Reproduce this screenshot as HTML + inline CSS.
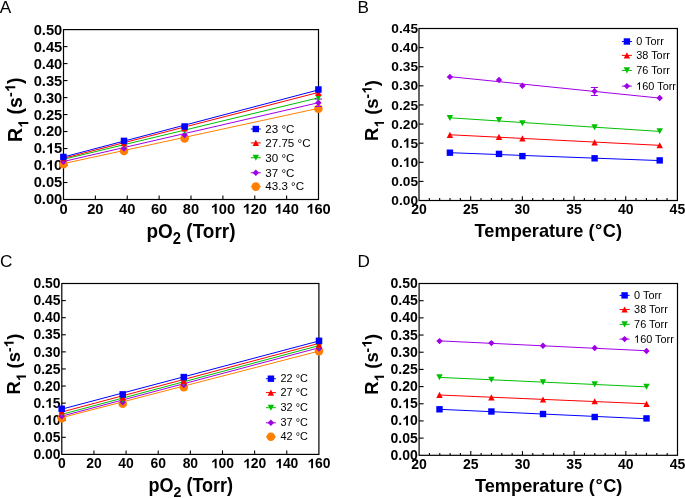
<!DOCTYPE html>
<html><head><meta charset="utf-8"><style>
html,body{margin:0;padding:0;background:#fff;width:685px;height:498px;overflow:hidden}
svg{display:block;will-change:transform}
</style></head><body>
<svg width="685" height="498" viewBox="0 0 685 498" font-family='"Liberation Sans", sans-serif' fill="#000">
<rect width="685" height="498" fill="#fff"/>
<g transform="translate(-0.150,12.900)"><text x="0" y="0" font-size="17.2" text-anchor="start" font-weight="normal">A</text></g>
<g transform="translate(357.500,13.000)"><text x="0" y="0" font-size="17.1" text-anchor="start" font-weight="normal">B</text></g>
<g transform="translate(0.000,267.100)"><text x="0" y="0" font-size="17.2" text-anchor="start" font-weight="normal">C</text></g>
<g transform="translate(357.600,266.700)"><text x="0" y="0" font-size="17.1" text-anchor="start" font-weight="normal">D</text></g>
<rect x="63.50" y="29.60" width="255.00" height="169.90" fill="none" stroke="#000" stroke-width="1.2"/>
<g transform="translate(62.300,204.450)"><text x="0" y="0" font-size="14.7" text-anchor="end" font-weight="bold">0.00</text></g>
<line x1="63.50" y1="182.51" x2="67.50" y2="182.51" stroke="#000" stroke-width="1.1"/>
<g transform="translate(62.300,187.460)"><text x="0" y="0" font-size="14.7" text-anchor="end" font-weight="bold">0.05</text></g>
<line x1="63.50" y1="165.52" x2="67.50" y2="165.52" stroke="#000" stroke-width="1.1"/>
<g transform="translate(62.300,170.470)"><text x="0" y="0" font-size="14.7" text-anchor="end" font-weight="bold">0. 0</text><path d="M843,0L566,0L566,1010C470,920 340,850 190,805L190,1050C290,1085 400,1150 480,1230C540,1290 580,1350 600,1409L843,1409Z" transform="translate(-16.351,0.000) scale(0.00718,-0.00718)"/></g>
<line x1="63.50" y1="148.53" x2="67.50" y2="148.53" stroke="#000" stroke-width="1.1"/>
<g transform="translate(62.300,153.480)"><text x="0" y="0" font-size="14.7" text-anchor="end" font-weight="bold">0. 5</text><path d="M843,0L566,0L566,1010C470,920 340,850 190,805L190,1050C290,1085 400,1150 480,1230C540,1290 580,1350 600,1409L843,1409Z" transform="translate(-16.351,0.000) scale(0.00718,-0.00718)"/></g>
<line x1="63.50" y1="131.54" x2="67.50" y2="131.54" stroke="#000" stroke-width="1.1"/>
<g transform="translate(62.300,136.490)"><text x="0" y="0" font-size="14.7" text-anchor="end" font-weight="bold">0.20</text></g>
<line x1="63.50" y1="114.55" x2="67.50" y2="114.55" stroke="#000" stroke-width="1.1"/>
<g transform="translate(62.300,119.500)"><text x="0" y="0" font-size="14.7" text-anchor="end" font-weight="bold">0.25</text></g>
<line x1="63.50" y1="97.56" x2="67.50" y2="97.56" stroke="#000" stroke-width="1.1"/>
<g transform="translate(62.300,102.510)"><text x="0" y="0" font-size="14.7" text-anchor="end" font-weight="bold">0.30</text></g>
<line x1="63.50" y1="80.57" x2="67.50" y2="80.57" stroke="#000" stroke-width="1.1"/>
<g transform="translate(62.300,85.520)"><text x="0" y="0" font-size="14.7" text-anchor="end" font-weight="bold">0.35</text></g>
<line x1="63.50" y1="63.58" x2="67.50" y2="63.58" stroke="#000" stroke-width="1.1"/>
<g transform="translate(62.300,68.530)"><text x="0" y="0" font-size="14.7" text-anchor="end" font-weight="bold">0.40</text></g>
<line x1="63.50" y1="46.59" x2="67.50" y2="46.59" stroke="#000" stroke-width="1.1"/>
<g transform="translate(62.300,51.540)"><text x="0" y="0" font-size="14.7" text-anchor="end" font-weight="bold">0.45</text></g>
<g transform="translate(62.300,34.550)"><text x="0" y="0" font-size="14.7" text-anchor="end" font-weight="bold">0.50</text></g>
<g transform="translate(63.500,213.750)"><text x="0" y="0" font-size="14.7" text-anchor="middle" font-weight="bold">0</text></g>
<line x1="95.38" y1="199.50" x2="95.38" y2="195.50" stroke="#000" stroke-width="1.1"/>
<g transform="translate(95.375,213.750)"><text x="0" y="0" font-size="14.7" text-anchor="middle" font-weight="bold">20</text></g>
<line x1="127.25" y1="199.50" x2="127.25" y2="195.50" stroke="#000" stroke-width="1.1"/>
<g transform="translate(127.250,213.750)"><text x="0" y="0" font-size="14.7" text-anchor="middle" font-weight="bold">40</text></g>
<line x1="159.12" y1="199.50" x2="159.12" y2="195.50" stroke="#000" stroke-width="1.1"/>
<g transform="translate(159.125,213.750)"><text x="0" y="0" font-size="14.7" text-anchor="middle" font-weight="bold">60</text></g>
<line x1="191.00" y1="199.50" x2="191.00" y2="195.50" stroke="#000" stroke-width="1.1"/>
<g transform="translate(191.000,213.750)"><text x="0" y="0" font-size="14.7" text-anchor="middle" font-weight="bold">80</text></g>
<line x1="222.88" y1="199.50" x2="222.88" y2="195.50" stroke="#000" stroke-width="1.1"/>
<g transform="translate(222.875,213.750)"><text x="0" y="0" font-size="14.7" text-anchor="middle" font-weight="bold"> 00</text><path d="M843,0L566,0L566,1010C470,920 340,850 190,805L190,1050C290,1085 400,1150 480,1230C540,1290 580,1350 600,1409L843,1409Z" transform="translate(-12.263,0.000) scale(0.00718,-0.00718)"/></g>
<line x1="254.75" y1="199.50" x2="254.75" y2="195.50" stroke="#000" stroke-width="1.1"/>
<g transform="translate(254.750,213.750)"><text x="0" y="0" font-size="14.7" text-anchor="middle" font-weight="bold"> 20</text><path d="M843,0L566,0L566,1010C470,920 340,850 190,805L190,1050C290,1085 400,1150 480,1230C540,1290 580,1350 600,1409L843,1409Z" transform="translate(-12.263,0.000) scale(0.00718,-0.00718)"/></g>
<line x1="286.62" y1="199.50" x2="286.62" y2="195.50" stroke="#000" stroke-width="1.1"/>
<g transform="translate(286.625,213.750)"><text x="0" y="0" font-size="14.7" text-anchor="middle" font-weight="bold"> 40</text><path d="M843,0L566,0L566,1010C470,920 340,850 190,805L190,1050C290,1085 400,1150 480,1230C540,1290 580,1350 600,1409L843,1409Z" transform="translate(-12.263,0.000) scale(0.00718,-0.00718)"/></g>
<g transform="translate(318.500,213.750)"><text x="0" y="0" font-size="14.7" text-anchor="middle" font-weight="bold"> 60</text><path d="M843,0L566,0L566,1010C470,920 340,850 190,805L190,1050C290,1085 400,1150 480,1230C540,1290 580,1350 600,1409L843,1409Z" transform="translate(-12.263,0.000) scale(0.00718,-0.00718)"/></g>
<rect x="419.00" y="28.50" width="258.40" height="172.00" fill="none" stroke="#000" stroke-width="1.2"/>
<g transform="translate(418.000,205.100)"><text x="0" y="0" font-size="13.7" text-anchor="end" font-weight="bold">0.00</text></g>
<line x1="419.00" y1="181.39" x2="423.50" y2="181.39" stroke="#000" stroke-width="1.1"/>
<g transform="translate(418.000,185.989)"><text x="0" y="0" font-size="13.7" text-anchor="end" font-weight="bold">0.05</text></g>
<line x1="419.00" y1="162.28" x2="423.50" y2="162.28" stroke="#000" stroke-width="1.1"/>
<g transform="translate(418.000,166.878)"><text x="0" y="0" font-size="13.7" text-anchor="end" font-weight="bold">0. 0</text><path d="M843,0L566,0L566,1010C470,920 340,850 190,805L190,1050C290,1085 400,1150 480,1230C540,1290 580,1350 600,1409L843,1409Z" transform="translate(-15.239,0.000) scale(0.00669,-0.00669)"/></g>
<line x1="419.00" y1="143.17" x2="423.50" y2="143.17" stroke="#000" stroke-width="1.1"/>
<g transform="translate(418.000,147.767)"><text x="0" y="0" font-size="13.7" text-anchor="end" font-weight="bold">0. 5</text><path d="M843,0L566,0L566,1010C470,920 340,850 190,805L190,1050C290,1085 400,1150 480,1230C540,1290 580,1350 600,1409L843,1409Z" transform="translate(-15.239,0.000) scale(0.00669,-0.00669)"/></g>
<line x1="419.00" y1="124.06" x2="423.50" y2="124.06" stroke="#000" stroke-width="1.1"/>
<g transform="translate(418.000,128.656)"><text x="0" y="0" font-size="13.7" text-anchor="end" font-weight="bold">0.20</text></g>
<line x1="419.00" y1="104.94" x2="423.50" y2="104.94" stroke="#000" stroke-width="1.1"/>
<g transform="translate(418.000,109.544)"><text x="0" y="0" font-size="13.7" text-anchor="end" font-weight="bold">0.25</text></g>
<line x1="419.00" y1="85.83" x2="423.50" y2="85.83" stroke="#000" stroke-width="1.1"/>
<g transform="translate(418.000,90.433)"><text x="0" y="0" font-size="13.7" text-anchor="end" font-weight="bold">0.30</text></g>
<line x1="419.00" y1="66.72" x2="423.50" y2="66.72" stroke="#000" stroke-width="1.1"/>
<g transform="translate(418.000,71.322)"><text x="0" y="0" font-size="13.7" text-anchor="end" font-weight="bold">0.35</text></g>
<line x1="419.00" y1="47.61" x2="423.50" y2="47.61" stroke="#000" stroke-width="1.1"/>
<g transform="translate(418.000,52.211)"><text x="0" y="0" font-size="13.7" text-anchor="end" font-weight="bold">0.40</text></g>
<g transform="translate(418.000,33.100)"><text x="0" y="0" font-size="13.7" text-anchor="end" font-weight="bold">0.45</text></g>
<g transform="translate(419.000,213.800)"><text x="0" y="0" font-size="14.0" text-anchor="middle" font-weight="bold">20</text></g>
<line x1="470.68" y1="200.50" x2="470.68" y2="196.30" stroke="#000" stroke-width="1.1"/>
<g transform="translate(470.680,213.800)"><text x="0" y="0" font-size="14.0" text-anchor="middle" font-weight="bold">25</text></g>
<line x1="522.36" y1="200.50" x2="522.36" y2="196.30" stroke="#000" stroke-width="1.1"/>
<g transform="translate(522.360,213.800)"><text x="0" y="0" font-size="14.0" text-anchor="middle" font-weight="bold">30</text></g>
<line x1="574.04" y1="200.50" x2="574.04" y2="196.30" stroke="#000" stroke-width="1.1"/>
<g transform="translate(574.040,213.800)"><text x="0" y="0" font-size="14.0" text-anchor="middle" font-weight="bold">35</text></g>
<line x1="625.72" y1="200.50" x2="625.72" y2="196.30" stroke="#000" stroke-width="1.1"/>
<g transform="translate(625.720,213.800)"><text x="0" y="0" font-size="14.0" text-anchor="middle" font-weight="bold">40</text></g>
<g transform="translate(677.400,213.800)"><text x="0" y="0" font-size="14.0" text-anchor="middle" font-weight="bold">45</text></g>
<line x1="429.34" y1="200.50" x2="429.34" y2="198.10" stroke="#000" stroke-width="1.1"/>
<line x1="439.67" y1="200.50" x2="439.67" y2="198.10" stroke="#000" stroke-width="1.1"/>
<line x1="450.01" y1="200.50" x2="450.01" y2="198.10" stroke="#000" stroke-width="1.1"/>
<line x1="460.34" y1="200.50" x2="460.34" y2="198.10" stroke="#000" stroke-width="1.1"/>
<line x1="481.02" y1="200.50" x2="481.02" y2="198.10" stroke="#000" stroke-width="1.1"/>
<line x1="491.35" y1="200.50" x2="491.35" y2="198.10" stroke="#000" stroke-width="1.1"/>
<line x1="501.69" y1="200.50" x2="501.69" y2="198.10" stroke="#000" stroke-width="1.1"/>
<line x1="512.02" y1="200.50" x2="512.02" y2="198.10" stroke="#000" stroke-width="1.1"/>
<line x1="532.70" y1="200.50" x2="532.70" y2="198.10" stroke="#000" stroke-width="1.1"/>
<line x1="543.03" y1="200.50" x2="543.03" y2="198.10" stroke="#000" stroke-width="1.1"/>
<line x1="553.37" y1="200.50" x2="553.37" y2="198.10" stroke="#000" stroke-width="1.1"/>
<line x1="563.70" y1="200.50" x2="563.70" y2="198.10" stroke="#000" stroke-width="1.1"/>
<line x1="584.38" y1="200.50" x2="584.38" y2="198.10" stroke="#000" stroke-width="1.1"/>
<line x1="594.71" y1="200.50" x2="594.71" y2="198.10" stroke="#000" stroke-width="1.1"/>
<line x1="605.05" y1="200.50" x2="605.05" y2="198.10" stroke="#000" stroke-width="1.1"/>
<line x1="615.38" y1="200.50" x2="615.38" y2="198.10" stroke="#000" stroke-width="1.1"/>
<line x1="636.06" y1="200.50" x2="636.06" y2="198.10" stroke="#000" stroke-width="1.1"/>
<line x1="646.39" y1="200.50" x2="646.39" y2="198.10" stroke="#000" stroke-width="1.1"/>
<line x1="656.73" y1="200.50" x2="656.73" y2="198.10" stroke="#000" stroke-width="1.1"/>
<line x1="667.06" y1="200.50" x2="667.06" y2="198.10" stroke="#000" stroke-width="1.1"/>
<rect x="61.80" y="283.50" width="257.10" height="170.90" fill="none" stroke="#000" stroke-width="1.2"/>
<g transform="translate(60.500,459.100)"><text x="0" y="0" font-size="13.9" text-anchor="end" font-weight="bold">0.00</text></g>
<line x1="61.80" y1="437.31" x2="65.80" y2="437.31" stroke="#000" stroke-width="1.1"/>
<g transform="translate(60.500,442.010)"><text x="0" y="0" font-size="13.9" text-anchor="end" font-weight="bold">0.05</text></g>
<line x1="61.80" y1="420.22" x2="65.80" y2="420.22" stroke="#000" stroke-width="1.1"/>
<g transform="translate(60.500,424.920)"><text x="0" y="0" font-size="13.9" text-anchor="end" font-weight="bold">0. 0</text><path d="M843,0L566,0L566,1010C470,920 340,850 190,805L190,1050C290,1085 400,1150 480,1230C540,1290 580,1350 600,1409L843,1409Z" transform="translate(-15.461,0.000) scale(0.00679,-0.00679)"/></g>
<line x1="61.80" y1="403.13" x2="65.80" y2="403.13" stroke="#000" stroke-width="1.1"/>
<g transform="translate(60.500,407.830)"><text x="0" y="0" font-size="13.9" text-anchor="end" font-weight="bold">0. 5</text><path d="M843,0L566,0L566,1010C470,920 340,850 190,805L190,1050C290,1085 400,1150 480,1230C540,1290 580,1350 600,1409L843,1409Z" transform="translate(-15.461,0.000) scale(0.00679,-0.00679)"/></g>
<line x1="61.80" y1="386.04" x2="65.80" y2="386.04" stroke="#000" stroke-width="1.1"/>
<g transform="translate(60.500,390.740)"><text x="0" y="0" font-size="13.9" text-anchor="end" font-weight="bold">0.20</text></g>
<line x1="61.80" y1="368.95" x2="65.80" y2="368.95" stroke="#000" stroke-width="1.1"/>
<g transform="translate(60.500,373.650)"><text x="0" y="0" font-size="13.9" text-anchor="end" font-weight="bold">0.25</text></g>
<line x1="61.80" y1="351.86" x2="65.80" y2="351.86" stroke="#000" stroke-width="1.1"/>
<g transform="translate(60.500,356.560)"><text x="0" y="0" font-size="13.9" text-anchor="end" font-weight="bold">0.30</text></g>
<line x1="61.80" y1="334.77" x2="65.80" y2="334.77" stroke="#000" stroke-width="1.1"/>
<g transform="translate(60.500,339.470)"><text x="0" y="0" font-size="13.9" text-anchor="end" font-weight="bold">0.35</text></g>
<line x1="61.80" y1="317.68" x2="65.80" y2="317.68" stroke="#000" stroke-width="1.1"/>
<g transform="translate(60.500,322.380)"><text x="0" y="0" font-size="13.9" text-anchor="end" font-weight="bold">0.40</text></g>
<line x1="61.80" y1="300.59" x2="65.80" y2="300.59" stroke="#000" stroke-width="1.1"/>
<g transform="translate(60.500,305.290)"><text x="0" y="0" font-size="13.9" text-anchor="end" font-weight="bold">0.45</text></g>
<g transform="translate(60.500,288.200)"><text x="0" y="0" font-size="13.9" text-anchor="end" font-weight="bold">0.50</text></g>
<g transform="translate(61.800,468.200)"><text x="0" y="0" font-size="13.9" text-anchor="middle" font-weight="bold">0</text></g>
<line x1="93.94" y1="454.40" x2="93.94" y2="450.40" stroke="#000" stroke-width="1.1"/>
<g transform="translate(93.938,468.200)"><text x="0" y="0" font-size="13.9" text-anchor="middle" font-weight="bold">20</text></g>
<line x1="126.07" y1="454.40" x2="126.07" y2="450.40" stroke="#000" stroke-width="1.1"/>
<g transform="translate(126.075,468.200)"><text x="0" y="0" font-size="13.9" text-anchor="middle" font-weight="bold">40</text></g>
<line x1="158.21" y1="454.40" x2="158.21" y2="450.40" stroke="#000" stroke-width="1.1"/>
<g transform="translate(158.212,468.200)"><text x="0" y="0" font-size="13.9" text-anchor="middle" font-weight="bold">60</text></g>
<line x1="190.35" y1="454.40" x2="190.35" y2="450.40" stroke="#000" stroke-width="1.1"/>
<g transform="translate(190.350,468.200)"><text x="0" y="0" font-size="13.9" text-anchor="middle" font-weight="bold">80</text></g>
<line x1="222.49" y1="454.40" x2="222.49" y2="450.40" stroke="#000" stroke-width="1.1"/>
<g transform="translate(222.487,468.200)"><text x="0" y="0" font-size="13.9" text-anchor="middle" font-weight="bold"> 00</text><path d="M843,0L566,0L566,1010C470,920 340,850 190,805L190,1050C290,1085 400,1150 480,1230C540,1290 580,1350 600,1409L843,1409Z" transform="translate(-11.596,0.000) scale(0.00679,-0.00679)"/></g>
<line x1="254.62" y1="454.40" x2="254.62" y2="450.40" stroke="#000" stroke-width="1.1"/>
<g transform="translate(254.625,468.200)"><text x="0" y="0" font-size="13.9" text-anchor="middle" font-weight="bold"> 20</text><path d="M843,0L566,0L566,1010C470,920 340,850 190,805L190,1050C290,1085 400,1150 480,1230C540,1290 580,1350 600,1409L843,1409Z" transform="translate(-11.596,0.000) scale(0.00679,-0.00679)"/></g>
<line x1="286.76" y1="454.40" x2="286.76" y2="450.40" stroke="#000" stroke-width="1.1"/>
<g transform="translate(286.762,468.200)"><text x="0" y="0" font-size="13.9" text-anchor="middle" font-weight="bold"> 40</text><path d="M843,0L566,0L566,1010C470,920 340,850 190,805L190,1050C290,1085 400,1150 480,1230C540,1290 580,1350 600,1409L843,1409Z" transform="translate(-11.596,0.000) scale(0.00679,-0.00679)"/></g>
<g transform="translate(318.900,468.200)"><text x="0" y="0" font-size="13.9" text-anchor="middle" font-weight="bold"> 60</text><path d="M843,0L566,0L566,1010C470,920 340,850 190,805L190,1050C290,1085 400,1150 480,1230C540,1290 580,1350 600,1409L843,1409Z" transform="translate(-11.596,0.000) scale(0.00679,-0.00679)"/></g>
<rect x="419.10" y="283.50" width="258.40" height="171.80" fill="none" stroke="#000" stroke-width="1.2"/>
<g transform="translate(417.800,459.800)"><text x="0" y="0" font-size="14.0" text-anchor="end" font-weight="bold">0.00</text></g>
<line x1="419.10" y1="438.12" x2="423.60" y2="438.12" stroke="#000" stroke-width="1.1"/>
<g transform="translate(417.800,442.620)"><text x="0" y="0" font-size="14.0" text-anchor="end" font-weight="bold">0.05</text></g>
<line x1="419.10" y1="420.94" x2="423.60" y2="420.94" stroke="#000" stroke-width="1.1"/>
<g transform="translate(417.800,425.440)"><text x="0" y="0" font-size="14.0" text-anchor="end" font-weight="bold">0. 0</text><path d="M843,0L566,0L566,1010C470,920 340,850 190,805L190,1050C290,1085 400,1150 480,1230C540,1290 580,1350 600,1409L843,1409Z" transform="translate(-15.572,0.000) scale(0.00684,-0.00684)"/></g>
<line x1="419.10" y1="403.76" x2="423.60" y2="403.76" stroke="#000" stroke-width="1.1"/>
<g transform="translate(417.800,408.260)"><text x="0" y="0" font-size="14.0" text-anchor="end" font-weight="bold">0. 5</text><path d="M843,0L566,0L566,1010C470,920 340,850 190,805L190,1050C290,1085 400,1150 480,1230C540,1290 580,1350 600,1409L843,1409Z" transform="translate(-15.572,0.000) scale(0.00684,-0.00684)"/></g>
<line x1="419.10" y1="386.58" x2="423.60" y2="386.58" stroke="#000" stroke-width="1.1"/>
<g transform="translate(417.800,391.080)"><text x="0" y="0" font-size="14.0" text-anchor="end" font-weight="bold">0.20</text></g>
<line x1="419.10" y1="369.40" x2="423.60" y2="369.40" stroke="#000" stroke-width="1.1"/>
<g transform="translate(417.800,373.900)"><text x="0" y="0" font-size="14.0" text-anchor="end" font-weight="bold">0.25</text></g>
<line x1="419.10" y1="352.22" x2="423.60" y2="352.22" stroke="#000" stroke-width="1.1"/>
<g transform="translate(417.800,356.720)"><text x="0" y="0" font-size="14.0" text-anchor="end" font-weight="bold">0.30</text></g>
<line x1="419.10" y1="335.04" x2="423.60" y2="335.04" stroke="#000" stroke-width="1.1"/>
<g transform="translate(417.800,339.540)"><text x="0" y="0" font-size="14.0" text-anchor="end" font-weight="bold">0.35</text></g>
<line x1="419.10" y1="317.86" x2="423.60" y2="317.86" stroke="#000" stroke-width="1.1"/>
<g transform="translate(417.800,322.360)"><text x="0" y="0" font-size="14.0" text-anchor="end" font-weight="bold">0.40</text></g>
<line x1="419.10" y1="300.68" x2="423.60" y2="300.68" stroke="#000" stroke-width="1.1"/>
<g transform="translate(417.800,305.180)"><text x="0" y="0" font-size="14.0" text-anchor="end" font-weight="bold">0.45</text></g>
<g transform="translate(417.800,288.000)"><text x="0" y="0" font-size="14.0" text-anchor="end" font-weight="bold">0.50</text></g>
<g transform="translate(419.100,468.800)"><text x="0" y="0" font-size="14.0" text-anchor="middle" font-weight="bold">20</text></g>
<line x1="470.78" y1="455.30" x2="470.78" y2="451.10" stroke="#000" stroke-width="1.1"/>
<g transform="translate(470.780,468.800)"><text x="0" y="0" font-size="14.0" text-anchor="middle" font-weight="bold">25</text></g>
<line x1="522.46" y1="455.30" x2="522.46" y2="451.10" stroke="#000" stroke-width="1.1"/>
<g transform="translate(522.460,468.800)"><text x="0" y="0" font-size="14.0" text-anchor="middle" font-weight="bold">30</text></g>
<line x1="574.14" y1="455.30" x2="574.14" y2="451.10" stroke="#000" stroke-width="1.1"/>
<g transform="translate(574.140,468.800)"><text x="0" y="0" font-size="14.0" text-anchor="middle" font-weight="bold">35</text></g>
<line x1="625.82" y1="455.30" x2="625.82" y2="451.10" stroke="#000" stroke-width="1.1"/>
<g transform="translate(625.820,468.800)"><text x="0" y="0" font-size="14.0" text-anchor="middle" font-weight="bold">40</text></g>
<g transform="translate(677.500,468.800)"><text x="0" y="0" font-size="14.0" text-anchor="middle" font-weight="bold">45</text></g>
<line x1="429.44" y1="455.30" x2="429.44" y2="452.90" stroke="#000" stroke-width="1.1"/>
<line x1="439.77" y1="455.30" x2="439.77" y2="452.90" stroke="#000" stroke-width="1.1"/>
<line x1="450.11" y1="455.30" x2="450.11" y2="452.90" stroke="#000" stroke-width="1.1"/>
<line x1="460.44" y1="455.30" x2="460.44" y2="452.90" stroke="#000" stroke-width="1.1"/>
<line x1="481.12" y1="455.30" x2="481.12" y2="452.90" stroke="#000" stroke-width="1.1"/>
<line x1="491.45" y1="455.30" x2="491.45" y2="452.90" stroke="#000" stroke-width="1.1"/>
<line x1="501.79" y1="455.30" x2="501.79" y2="452.90" stroke="#000" stroke-width="1.1"/>
<line x1="512.12" y1="455.30" x2="512.12" y2="452.90" stroke="#000" stroke-width="1.1"/>
<line x1="532.80" y1="455.30" x2="532.80" y2="452.90" stroke="#000" stroke-width="1.1"/>
<line x1="543.13" y1="455.30" x2="543.13" y2="452.90" stroke="#000" stroke-width="1.1"/>
<line x1="553.47" y1="455.30" x2="553.47" y2="452.90" stroke="#000" stroke-width="1.1"/>
<line x1="563.80" y1="455.30" x2="563.80" y2="452.90" stroke="#000" stroke-width="1.1"/>
<line x1="584.48" y1="455.30" x2="584.48" y2="452.90" stroke="#000" stroke-width="1.1"/>
<line x1="594.81" y1="455.30" x2="594.81" y2="452.90" stroke="#000" stroke-width="1.1"/>
<line x1="605.15" y1="455.30" x2="605.15" y2="452.90" stroke="#000" stroke-width="1.1"/>
<line x1="615.48" y1="455.30" x2="615.48" y2="452.90" stroke="#000" stroke-width="1.1"/>
<line x1="636.16" y1="455.30" x2="636.16" y2="452.90" stroke="#000" stroke-width="1.1"/>
<line x1="646.49" y1="455.30" x2="646.49" y2="452.90" stroke="#000" stroke-width="1.1"/>
<line x1="656.83" y1="455.30" x2="656.83" y2="452.90" stroke="#000" stroke-width="1.1"/>
<line x1="667.16" y1="455.30" x2="667.16" y2="452.90" stroke="#000" stroke-width="1.1"/>
<g transform="translate(22.100,109.800) rotate(-90)"><text x="0" y="0" font-size="19.5" text-anchor="middle" font-weight="bold">R<tspan font-size="14.625" dy="6.240"> </tspan><tspan dy="-6.240"> (s</tspan><tspan font-size="14.625" dy="-6.825">- </tspan><tspan dy="6.825">)</tspan></text><path d="M843,0L566,0L566,1010C470,920 340,850 190,805L190,1050C290,1085 400,1150 480,1230C540,1290 580,1350 600,1409L843,1409Z" transform="translate(-18.153,6.240) scale(0.00714,-0.00714)"/><path d="M843,0L566,0L566,1010C470,920 340,850 190,805L190,1050C290,1085 400,1150 480,1230C540,1290 580,1350 600,1409L843,1409Z" transform="translate(17.608,-6.825) scale(0.00714,-0.00714)"/></g>
<g transform="translate(378.100,110.500) rotate(-90)"><text x="0" y="0" font-size="18.4" text-anchor="middle" font-weight="bold">R<tspan font-size="13.800" dy="5.888"> </tspan><tspan dy="-5.888"> (s</tspan><tspan font-size="13.800" dy="-6.440">- </tspan><tspan dy="6.440">)</tspan></text><path d="M843,0L566,0L566,1010C470,920 340,850 190,805L190,1050C290,1085 400,1150 480,1230C540,1290 580,1350 600,1409L843,1409Z" transform="translate(-17.129,5.888) scale(0.00674,-0.00674)"/><path d="M843,0L566,0L566,1010C470,920 340,850 190,805L190,1050C290,1085 400,1150 480,1230C540,1290 580,1350 600,1409L843,1409Z" transform="translate(16.614,-6.440) scale(0.00674,-0.00674)"/></g>
<g transform="translate(20.100,364.100) rotate(-90)"><text x="0" y="0" font-size="18.4" text-anchor="middle" font-weight="bold">R<tspan font-size="13.800" dy="5.888"> </tspan><tspan dy="-5.888"> (s</tspan><tspan font-size="13.800" dy="-6.440">- </tspan><tspan dy="6.440">)</tspan></text><path d="M843,0L566,0L566,1010C470,920 340,850 190,805L190,1050C290,1085 400,1150 480,1230C540,1290 580,1350 600,1409L843,1409Z" transform="translate(-17.129,5.888) scale(0.00674,-0.00674)"/><path d="M843,0L566,0L566,1010C470,920 340,850 190,805L190,1050C290,1085 400,1150 480,1230C540,1290 580,1350 600,1409L843,1409Z" transform="translate(16.614,-6.440) scale(0.00674,-0.00674)"/></g>
<g transform="translate(378.100,364.400) rotate(-90)"><text x="0" y="0" font-size="18.4" text-anchor="middle" font-weight="bold">R<tspan font-size="13.800" dy="5.888"> </tspan><tspan dy="-5.888"> (s</tspan><tspan font-size="13.800" dy="-6.440">- </tspan><tspan dy="6.440">)</tspan></text><path d="M843,0L566,0L566,1010C470,920 340,850 190,805L190,1050C290,1085 400,1150 480,1230C540,1290 580,1350 600,1409L843,1409Z" transform="translate(-17.129,5.888) scale(0.00674,-0.00674)"/><path d="M843,0L566,0L566,1010C470,920 340,850 190,805L190,1050C290,1085 400,1150 480,1230C540,1290 580,1350 600,1409L843,1409Z" transform="translate(16.614,-6.440) scale(0.00674,-0.00674)"/></g>
<g transform="translate(191.000,238.100) scale(0.9250,1)"><text x="0" y="0" font-size="20.5" text-anchor="middle" font-weight="bold">pO<tspan font-size="15.990" dy="6.150">2</tspan><tspan dy="-6.150"> (Torr)</tspan></text></g>
<text transform="translate(548.30,237.20) scale(1.000,1)" font-size="18.2" font-weight="bold" text-anchor="middle">Temperature (<tspan dx="0.5" dy="-0.9">°</tspan><tspan dx="0.5" dy="0.9">C)</tspan></text>
<g transform="translate(190.800,491.600) scale(0.9350,1)"><text x="0" y="0" font-size="19.3" text-anchor="middle" font-weight="bold">pO<tspan font-size="15.054" dy="5.790">2</tspan><tspan dy="-5.790"> (Torr)</tspan></text></g>
<text transform="translate(548.70,492.00) scale(1.000,1)" font-size="18.2" font-weight="bold" text-anchor="middle">Temperature (<tspan dx="0.5" dy="-0.9">°</tspan><tspan dx="0.5" dy="0.9">C)</tspan></text>
<line x1="63.50" y1="163.60" x2="318.50" y2="108.30" stroke="#FF8000" stroke-width="1.0"/>
<line x1="63.50" y1="161.50" x2="318.50" y2="102.70" stroke="#A000E6" stroke-width="1.0"/>
<line x1="63.50" y1="159.30" x2="318.50" y2="97.80" stroke="#00C000" stroke-width="1.0"/>
<line x1="63.50" y1="158.30" x2="318.50" y2="92.40" stroke="#FF0000" stroke-width="1.0"/>
<line x1="63.50" y1="157.00" x2="318.50" y2="89.90" stroke="#0000FF" stroke-width="1.0"/>
<circle cx="63.40" cy="164.20" r="4.30" fill="#FF8000"/>
<circle cx="124.00" cy="150.90" r="4.30" fill="#FF8000"/>
<circle cx="184.60" cy="138.40" r="4.30" fill="#FF8000"/>
<circle cx="318.40" cy="108.70" r="4.30" fill="#FF8000"/>
<line x1="318.40" y1="99.10" x2="318.40" y2="106.50" stroke="#A000E6" stroke-width="1.0"/>
<line x1="314.80" y1="99.10" x2="322.00" y2="99.10" stroke="#A000E6" stroke-width="1.0"/>
<line x1="314.80" y1="106.50" x2="322.00" y2="106.50" stroke="#A000E6" stroke-width="1.0"/>
<path d="M63.40,158.55 L66.65,161.80 L63.40,165.05 L60.15,161.80Z" fill="#A000E6"/>
<path d="M124.00,145.25 L127.25,148.50 L124.00,151.75 L120.75,148.50Z" fill="#A000E6"/>
<path d="M184.60,131.75 L187.85,135.00 L184.60,138.25 L181.35,135.00Z" fill="#A000E6"/>
<path d="M318.40,99.55 L321.65,102.80 L318.40,106.05 L315.15,102.80Z" fill="#A000E6"/>
<path d="M63.40,162.59 L66.65,156.41 L60.15,156.41Z" fill="#00C000"/>
<path d="M124.00,147.89 L127.25,141.71 L120.75,141.71Z" fill="#00C000"/>
<path d="M184.60,133.79 L187.85,127.61 L181.35,127.61Z" fill="#00C000"/>
<path d="M318.40,100.69 L321.65,94.51 L315.15,94.51Z" fill="#00C000"/>
<path d="M63.40,155.11 L66.65,161.29 L60.15,161.29Z" fill="#FF0000"/>
<path d="M124.00,140.01 L127.25,146.19 L120.75,146.19Z" fill="#FF0000"/>
<path d="M184.60,125.41 L187.85,131.59 L181.35,131.59Z" fill="#FF0000"/>
<path d="M318.40,89.71 L321.65,95.89 L315.15,95.89Z" fill="#FF0000"/>
<rect x="60.15" y="153.75" width="6.50" height="6.50" fill="#0000FF"/>
<rect x="120.75" y="137.65" width="6.50" height="6.50" fill="#0000FF"/>
<rect x="181.35" y="123.25" width="6.50" height="6.50" fill="#0000FF"/>
<rect x="315.15" y="86.25" width="6.50" height="6.50" fill="#0000FF"/>
<line x1="61.80" y1="417.60" x2="318.90" y2="351.10" stroke="#FF8000" stroke-width="1.0"/>
<line x1="61.80" y1="416.15" x2="318.90" y2="347.80" stroke="#A000E6" stroke-width="1.0"/>
<line x1="61.80" y1="414.35" x2="318.90" y2="345.65" stroke="#00C000" stroke-width="1.0"/>
<line x1="61.80" y1="412.00" x2="318.90" y2="343.40" stroke="#FF0000" stroke-width="1.0"/>
<line x1="61.80" y1="409.15" x2="318.90" y2="341.00" stroke="#0000FF" stroke-width="1.0"/>
<circle cx="61.70" cy="418.30" r="4.30" fill="#FF8000"/>
<circle cx="122.70" cy="403.80" r="4.30" fill="#FF8000"/>
<circle cx="183.80" cy="387.10" r="4.30" fill="#FF8000"/>
<circle cx="319.00" cy="351.10" r="4.30" fill="#FF8000"/>
<path d="M61.70,413.05 L64.95,416.30 L61.70,419.55 L58.45,416.30Z" fill="#A000E6"/>
<path d="M122.70,398.95 L125.95,402.20 L122.70,405.45 L119.45,402.20Z" fill="#A000E6"/>
<path d="M183.80,381.65 L187.05,384.90 L183.80,388.15 L180.55,384.90Z" fill="#A000E6"/>
<path d="M319.00,345.35 L322.25,348.60 L319.00,351.85 L315.75,348.60Z" fill="#A000E6"/>
<path d="M61.70,416.69 L64.95,410.51 L58.45,410.51Z" fill="#00C000"/>
<path d="M122.70,402.99 L125.95,396.81 L119.45,396.81Z" fill="#00C000"/>
<path d="M183.80,386.09 L187.05,379.91 L180.55,379.91Z" fill="#00C000"/>
<path d="M319.00,349.59 L322.25,343.41 L315.75,343.41Z" fill="#00C000"/>
<path d="M61.70,408.41 L64.95,414.59 L58.45,414.59Z" fill="#FF0000"/>
<path d="M122.70,394.21 L125.95,400.39 L119.45,400.39Z" fill="#FF0000"/>
<path d="M183.80,377.71 L187.05,383.89 L180.55,383.89Z" fill="#FF0000"/>
<path d="M319.00,341.51 L322.25,347.69 L315.75,347.69Z" fill="#FF0000"/>
<rect x="58.45" y="405.55" width="6.50" height="6.50" fill="#0000FF"/>
<rect x="119.45" y="391.15" width="6.50" height="6.50" fill="#0000FF"/>
<rect x="180.55" y="373.85" width="6.50" height="6.50" fill="#0000FF"/>
<rect x="315.75" y="337.55" width="6.50" height="6.50" fill="#0000FF"/>
<line x1="449.90" y1="76.68" x2="659.70" y2="98.09" stroke="#A000E6" stroke-width="1.0"/>
<line x1="449.90" y1="117.80" x2="659.70" y2="131.42" stroke="#00C000" stroke-width="1.0"/>
<line x1="449.90" y1="134.75" x2="659.70" y2="145.35" stroke="#FF0000" stroke-width="1.0"/>
<line x1="449.90" y1="152.70" x2="659.70" y2="160.59" stroke="#0000FF" stroke-width="1.0"/>
<line x1="594.40" y1="87.50" x2="594.40" y2="95.50" stroke="#A000E6" stroke-width="1.0"/>
<line x1="590.90" y1="87.50" x2="597.90" y2="87.50" stroke="#A000E6" stroke-width="1.0"/>
<line x1="590.90" y1="95.50" x2="597.90" y2="95.50" stroke="#A000E6" stroke-width="1.0"/>
<path d="M449.90,73.70 L453.10,76.90 L449.90,80.10 L446.70,76.90Z" fill="#A000E6"/>
<path d="M499.00,76.80 L502.20,80.00 L499.00,83.20 L495.80,80.00Z" fill="#A000E6"/>
<path d="M522.40,82.60 L525.60,85.80 L522.40,89.00 L519.20,85.80Z" fill="#A000E6"/>
<path d="M594.60,88.10 L597.80,91.30 L594.60,94.50 L591.40,91.30Z" fill="#A000E6"/>
<path d="M659.70,94.80 L662.90,98.00 L659.70,101.20 L656.50,98.00Z" fill="#A000E6"/>
<path d="M449.90,121.04 L453.10,114.96 L446.70,114.96Z" fill="#00C000"/>
<path d="M499.00,123.04 L502.20,116.96 L495.80,116.96Z" fill="#00C000"/>
<path d="M522.40,126.34 L525.60,120.26 L519.20,120.26Z" fill="#00C000"/>
<path d="M594.60,130.34 L597.80,124.26 L591.40,124.26Z" fill="#00C000"/>
<path d="M659.70,134.34 L662.90,128.26 L656.50,128.26Z" fill="#00C000"/>
<path d="M449.90,131.86 L453.10,137.94 L446.70,137.94Z" fill="#FF0000"/>
<path d="M499.00,133.86 L502.20,139.94 L495.80,139.94Z" fill="#FF0000"/>
<path d="M522.40,135.36 L525.60,141.44 L519.20,141.44Z" fill="#FF0000"/>
<path d="M594.60,139.36 L597.80,145.44 L591.40,145.44Z" fill="#FF0000"/>
<path d="M659.70,142.16 L662.90,148.24 L656.50,148.24Z" fill="#FF0000"/>
<rect x="446.70" y="149.50" width="6.40" height="6.40" fill="#0000FF"/>
<rect x="495.80" y="150.70" width="6.40" height="6.40" fill="#0000FF"/>
<rect x="519.20" y="152.90" width="6.40" height="6.40" fill="#0000FF"/>
<rect x="591.40" y="155.10" width="6.40" height="6.40" fill="#0000FF"/>
<rect x="656.50" y="157.20" width="6.40" height="6.40" fill="#0000FF"/>
<line x1="439.50" y1="340.86" x2="646.50" y2="350.74" stroke="#A000E6" stroke-width="1.0"/>
<line x1="439.50" y1="377.40" x2="646.50" y2="386.84" stroke="#00C000" stroke-width="1.0"/>
<line x1="439.50" y1="395.02" x2="646.50" y2="403.74" stroke="#FF0000" stroke-width="1.0"/>
<line x1="439.50" y1="409.30" x2="646.50" y2="418.78" stroke="#0000FF" stroke-width="1.0"/>
<path d="M439.50,337.90 L442.70,341.10 L439.50,344.30 L436.30,341.10Z" fill="#A000E6"/>
<path d="M491.40,339.90 L494.60,343.10 L491.40,346.30 L488.20,343.10Z" fill="#A000E6"/>
<path d="M543.00,342.60 L546.20,345.80 L543.00,349.00 L539.80,345.80Z" fill="#A000E6"/>
<path d="M594.70,344.80 L597.90,348.00 L594.70,351.20 L591.50,348.00Z" fill="#A000E6"/>
<path d="M646.50,347.80 L649.70,351.00 L646.50,354.20 L643.30,351.00Z" fill="#A000E6"/>
<path d="M439.50,380.34 L442.70,374.26 L436.30,374.26Z" fill="#00C000"/>
<path d="M491.40,382.84 L494.60,376.76 L488.20,376.76Z" fill="#00C000"/>
<path d="M543.00,385.34 L546.20,379.26 L539.80,379.26Z" fill="#00C000"/>
<path d="M594.70,387.44 L597.90,381.36 L591.50,381.36Z" fill="#00C000"/>
<path d="M646.50,389.84 L649.70,383.76 L643.30,383.76Z" fill="#00C000"/>
<path d="M439.50,391.86 L442.70,397.94 L436.30,397.94Z" fill="#FF0000"/>
<path d="M491.40,394.36 L494.60,400.44 L488.20,400.44Z" fill="#FF0000"/>
<path d="M543.00,396.46 L546.20,402.54 L539.80,402.54Z" fill="#FF0000"/>
<path d="M594.70,398.16 L597.90,404.24 L591.50,404.24Z" fill="#FF0000"/>
<path d="M646.50,400.86 L649.70,406.94 L643.30,406.94Z" fill="#FF0000"/>
<rect x="436.30" y="406.10" width="6.40" height="6.40" fill="#0000FF"/>
<rect x="488.20" y="408.30" width="6.40" height="6.40" fill="#0000FF"/>
<rect x="539.80" y="410.80" width="6.40" height="6.40" fill="#0000FF"/>
<rect x="591.50" y="413.80" width="6.40" height="6.40" fill="#0000FF"/>
<rect x="643.30" y="415.20" width="6.40" height="6.40" fill="#0000FF"/>
<line x1="250.80" y1="129.00" x2="260.80" y2="129.00" stroke="#0000FF" stroke-width="1.0"/>
<rect x="252.60" y="125.80" width="6.40" height="6.40" fill="#0000FF"/>
<g transform="translate(265.300,132.800)"><text x="0" y="0" font-size="11.6" text-anchor="start" font-weight="normal">23 °C</text></g>
<line x1="250.80" y1="142.90" x2="260.80" y2="142.90" stroke="#FF0000" stroke-width="1.0"/>
<path d="M255.80,139.86 L259.00,145.94 L252.60,145.94Z" fill="#FF0000"/>
<g transform="translate(265.300,146.700)"><text x="0" y="0" font-size="11.6" text-anchor="start" font-weight="normal">27.75 °C</text></g>
<line x1="250.80" y1="157.70" x2="260.80" y2="157.70" stroke="#00C000" stroke-width="1.0"/>
<path d="M255.80,160.74 L259.00,154.66 L252.60,154.66Z" fill="#00C000"/>
<g transform="translate(265.300,161.500)"><text x="0" y="0" font-size="11.6" text-anchor="start" font-weight="normal">30 °C</text></g>
<line x1="250.80" y1="172.80" x2="260.80" y2="172.80" stroke="#A000E6" stroke-width="1.0"/>
<path d="M255.80,169.60 L259.00,172.80 L255.80,176.00 L252.60,172.80Z" fill="#A000E6"/>
<g transform="translate(265.300,176.600)"><text x="0" y="0" font-size="11.6" text-anchor="start" font-weight="normal">37 °C</text></g>
<line x1="250.80" y1="186.60" x2="260.80" y2="186.60" stroke="#FF8000" stroke-width="1.0"/>
<circle cx="255.80" cy="186.60" r="4.30" fill="#FF8000"/>
<g transform="translate(265.300,190.400)"><text x="0" y="0" font-size="11.6" text-anchor="start" font-weight="normal">43.3 °C</text></g>
<line x1="265.90" y1="378.70" x2="275.90" y2="378.70" stroke="#0000FF" stroke-width="1.0"/>
<rect x="267.70" y="375.50" width="6.40" height="6.40" fill="#0000FF"/>
<g transform="translate(280.500,382.300) scale(0.9400,1)"><text x="0" y="0" font-size="11.6" text-anchor="start" font-weight="normal">22 °C</text></g>
<line x1="265.90" y1="392.60" x2="275.90" y2="392.60" stroke="#FF0000" stroke-width="1.0"/>
<path d="M270.90,389.56 L274.10,395.64 L267.70,395.64Z" fill="#FF0000"/>
<g transform="translate(280.500,396.200) scale(0.9400,1)"><text x="0" y="0" font-size="11.6" text-anchor="start" font-weight="normal">27 °C</text></g>
<line x1="265.90" y1="407.70" x2="275.90" y2="407.70" stroke="#00C000" stroke-width="1.0"/>
<path d="M270.90,410.74 L274.10,404.66 L267.70,404.66Z" fill="#00C000"/>
<g transform="translate(280.500,411.300) scale(0.9400,1)"><text x="0" y="0" font-size="11.6" text-anchor="start" font-weight="normal">32 °C</text></g>
<line x1="265.90" y1="422.80" x2="275.90" y2="422.80" stroke="#A000E6" stroke-width="1.0"/>
<path d="M270.90,419.60 L274.10,422.80 L270.90,426.00 L267.70,422.80Z" fill="#A000E6"/>
<g transform="translate(280.500,426.400) scale(0.9400,1)"><text x="0" y="0" font-size="11.6" text-anchor="start" font-weight="normal">37 °C</text></g>
<line x1="265.90" y1="436.80" x2="275.90" y2="436.80" stroke="#FF8000" stroke-width="1.0"/>
<circle cx="270.90" cy="436.80" r="4.30" fill="#FF8000"/>
<g transform="translate(280.500,440.400) scale(0.9400,1)"><text x="0" y="0" font-size="11.6" text-anchor="start" font-weight="normal">42 °C</text></g>
<line x1="621.90" y1="41.50" x2="631.90" y2="41.50" stroke="#0000FF" stroke-width="1.0"/>
<rect x="623.70" y="38.30" width="6.40" height="6.40" fill="#0000FF"/>
<g transform="translate(636.200,45.100)"><text x="0" y="0" font-size="10.9" text-anchor="start" font-weight="normal">0 Torr</text></g>
<line x1="621.90" y1="55.40" x2="631.90" y2="55.40" stroke="#FF0000" stroke-width="1.0"/>
<path d="M626.90,52.36 L630.10,58.44 L623.70,58.44Z" fill="#FF0000"/>
<g transform="translate(636.200,59.000)"><text x="0" y="0" font-size="10.9" text-anchor="start" font-weight="normal">38 Torr</text></g>
<line x1="621.90" y1="70.40" x2="631.90" y2="70.40" stroke="#00C000" stroke-width="1.0"/>
<path d="M626.90,73.44 L630.10,67.36 L623.70,67.36Z" fill="#00C000"/>
<g transform="translate(636.200,74.000)"><text x="0" y="0" font-size="10.9" text-anchor="start" font-weight="normal">76 Torr</text></g>
<line x1="621.90" y1="86.10" x2="631.90" y2="86.10" stroke="#A000E6" stroke-width="1.0"/>
<path d="M626.90,82.90 L630.10,86.10 L626.90,89.30 L623.70,86.10Z" fill="#A000E6"/>
<g transform="translate(636.200,89.700)"><text x="0" y="0" font-size="10.9" text-anchor="start" font-weight="normal"> 60 Torr</text><path d="M712,0L532,0L532,1130C480,1080 405,1025 330,985C285,960 235,937 190,920L190,1085C290,1130 370,1190 435,1255C490,1310 530,1360 555,1409L712,1409Z" transform="translate(0.000,0.000) scale(0.00532,-0.00532)"/></g>
<line x1="619.60" y1="295.40" x2="629.60" y2="295.40" stroke="#0000FF" stroke-width="1.0"/>
<rect x="621.40" y="292.20" width="6.40" height="6.40" fill="#0000FF"/>
<g transform="translate(634.100,299.000)"><text x="0" y="0" font-size="10.9" text-anchor="start" font-weight="normal">0 Torr</text></g>
<line x1="619.60" y1="309.50" x2="629.60" y2="309.50" stroke="#FF0000" stroke-width="1.0"/>
<path d="M624.60,306.46 L627.80,312.54 L621.40,312.54Z" fill="#FF0000"/>
<g transform="translate(634.100,313.100)"><text x="0" y="0" font-size="10.9" text-anchor="start" font-weight="normal">38 Torr</text></g>
<line x1="619.60" y1="324.40" x2="629.60" y2="324.40" stroke="#00C000" stroke-width="1.0"/>
<path d="M624.60,327.44 L627.80,321.36 L621.40,321.36Z" fill="#00C000"/>
<g transform="translate(634.100,328.000)"><text x="0" y="0" font-size="10.9" text-anchor="start" font-weight="normal">76 Torr</text></g>
<line x1="619.60" y1="339.10" x2="629.60" y2="339.10" stroke="#A000E6" stroke-width="1.0"/>
<path d="M624.60,335.90 L627.80,339.10 L624.60,342.30 L621.40,339.10Z" fill="#A000E6"/>
<g transform="translate(634.100,342.700)"><text x="0" y="0" font-size="10.9" text-anchor="start" font-weight="normal"> 60 Torr</text><path d="M712,0L532,0L532,1130C480,1080 405,1025 330,985C285,960 235,937 190,920L190,1085C290,1130 370,1190 435,1255C490,1310 530,1360 555,1409L712,1409Z" transform="translate(0.000,0.000) scale(0.00532,-0.00532)"/></g>
</svg>
</body></html>
